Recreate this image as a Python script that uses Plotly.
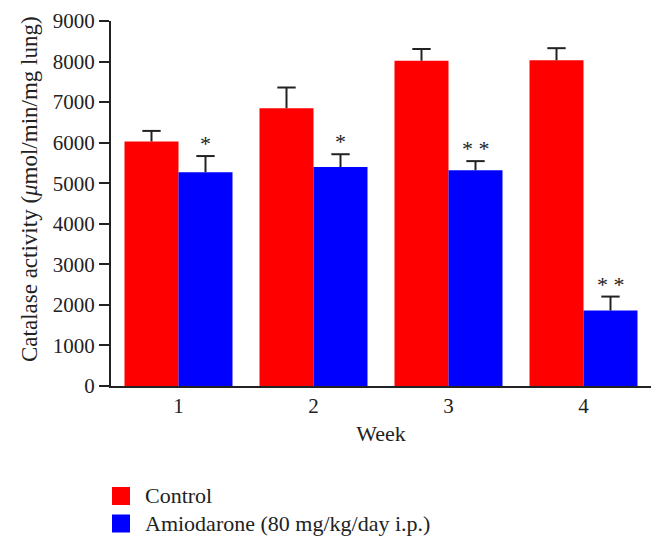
import plotly.graph_objects as go

weeks = [1, 2, 3, 4]
control = [6030, 6850, 8020, 8030]
control_err = [260, 510, 290, 300]
amio = [5270, 5400, 5320, 1860]
amio_err = [400, 315, 225, 345]
amio_sig = ["*", "*", "* *", "* *"]
y_ticks = [0, 1000, 2000, 3000, 4000, 5000, 6000, 7000, 8000, 9000]
series_names = ["Control", "Amiodarone (80 mg/kg/day i.p.)"]
series_colors = ["#FF0000", "#0000FF"]
y_title = "Catalase activity (<i>μ</i>mol/min/mg lung)"
x_title = "Week"

FONT = "Liberation Serif"
INK = "#222222"

# figure geometry (page has an 8px body margin)
W, H = 650, 531
ML, MR, MT, MB = 103, 7, 13, 153
PW, PH = W - ML - MR, H - MT - MB
BARGAP = 0.2
BAR_W = (1 - BARGAP) / 2      # width of one bar in category units
CAP = 0.068                   # half-width of error-bar cap, category units


def px_x(x):
    return (x - ML) / PW


def px_y(y):
    return (H - MB - y) / PH


fig = go.Figure()
series = [(control, control_err, series_names[0], series_colors[0], -BAR_W / 2),
          (amio, amio_err, series_names[1], series_colors[1], BAR_W / 2)]
for vals, errs, name, col, off in series:
    fig.add_trace(go.Bar(
        x=weeks, y=vals, name=name, showlegend=False,
        marker=dict(color=col, line=dict(width=0)),
    ))

# one-sided (upper) error bars: stem + top cap only
for vals, errs, name, col, off in series:
    ex, ey = [], []
    for w, v, e in zip(weeks, vals, errs):
        c = w + off
        ex += [c, c, None, c - CAP, c + CAP, None]
        ey += [v, v + e, None, v + e, v + e, None]
    fig.add_trace(go.Scatter(x=ex, y=ey, mode="lines", showlegend=False,
                             hoverinfo="skip",
                             line=dict(color=INK, width=2)))

for w, v, e, s in zip(weeks, amio, amio_err, amio_sig):
    fig.add_annotation(x=w + BAR_W / 2, y=v + e, text=s, showarrow=False,
                       yanchor="bottom", yshift=-2,
                       font=dict(family=FONT, size=22, color=INK))

# y-axis title (slightly above the plot centre, as in the original)
fig.add_annotation(xref="paper", yref="paper", x=px_x(21), y=px_y(181),
                   xanchor="center", yanchor="middle", textangle=-90,
                   text=y_title, showarrow=False,
                   font=dict(family=FONT, size=23, color=INK))

# legend drawn below the chart: square swatch + label
for i, (name, col) in enumerate(zip(series_names, series_colors)):
    top = 479 + i * 27.5
    fig.add_shape(type="rect", xref="paper", yref="paper",
                  x0=px_x(104), x1=px_x(122), y0=px_y(top), y1=px_y(top + 18),
                  fillcolor=col, line=dict(width=0))
    fig.add_annotation(xref="paper", yref="paper", x=px_x(135), y=px_y(top + 9),
                       xanchor="left", yanchor="middle", text=name,
                       showarrow=False,
                       font=dict(family=FONT, size=22, color=INK))

fig.update_layout(
    width=W, height=H,
    margin=dict(l=ML, r=MR, t=MT, b=MB),
    paper_bgcolor="white", plot_bgcolor="white",
    barmode="group", bargap=BARGAP, bargroupgap=0,
    font=dict(family=FONT, size=21, color=INK),
    showlegend=False,
)
fig.update_xaxes(
    range=[0.5, 4.5], tickmode="array", tickvals=weeks,
    ticktext=[str(w) for w in weeks],
    showline=True, linecolor=INK, linewidth=2,
    ticks="", showgrid=False, zeroline=False, automargin=False,
    title=dict(text=x_title, font=dict(family=FONT, size=22), standoff=8),
    tickfont=dict(family=FONT, size=21),
)
fig.update_yaxes(
    range=[0, 9000], tickmode="array", tickvals=y_ticks,
    showline=True, linecolor=INK, linewidth=2,
    ticks="outside", ticklen=10, tickwidth=2, tickcolor=INK,
    showgrid=False, zeroline=False, automargin=False,
    tickfont=dict(family=FONT, size=21),
)

fig.write_html("out.html")
